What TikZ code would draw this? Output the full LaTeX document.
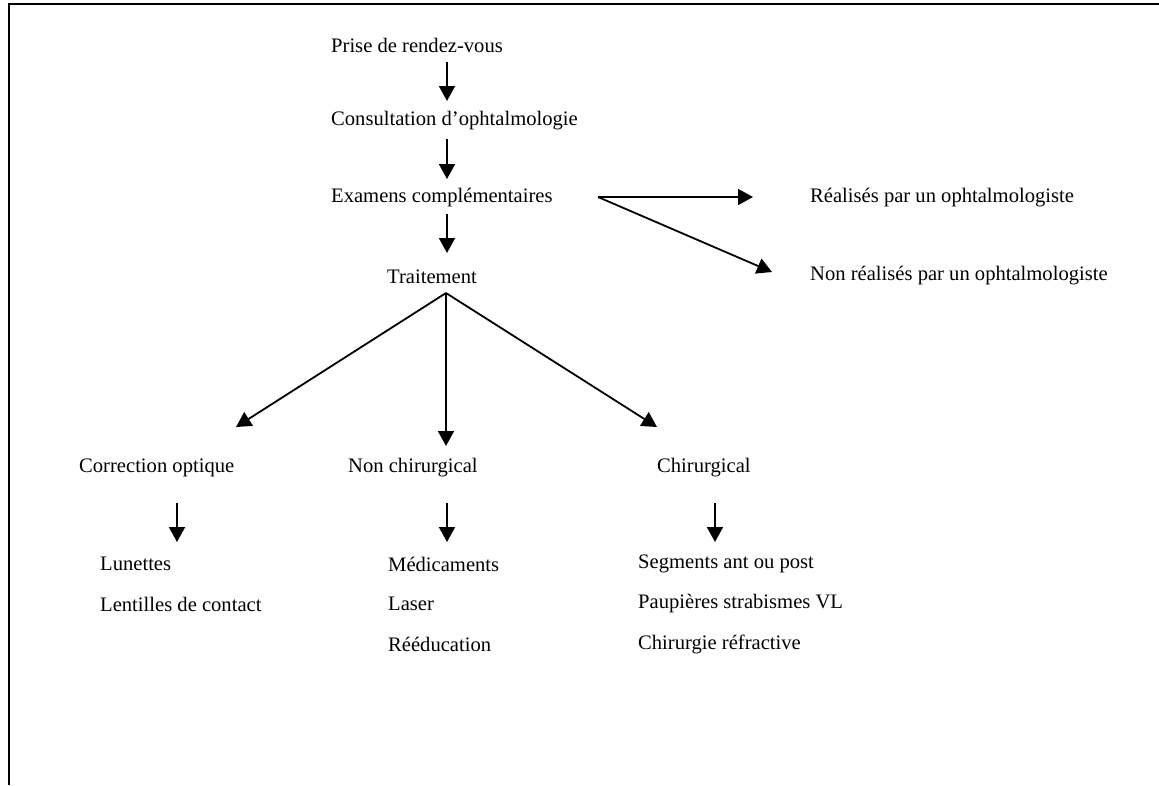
\documentclass[tikz,border=0pt]{standalone}
\usepackage{fontspec}
\setmainfont{Liberation Serif}
\usetikzlibrary{arrows.meta}
\tikzset{
  lbl/.style={anchor=west,inner sep=0pt,font=\fontsize{20.6}{24}\selectfont},
  arr/.style={line width=1.8pt,-{Triangle[length=15pt,width=16pt]}},
  frame/.style={line width=2.2pt}
}
\begin{document}
\begin{tikzpicture}[x=1pt,y=-1pt]
\useasboundingbox (0,0) rectangle (1159,785);
\draw[frame] (9,785) -- (9,4) -- (1159,4);
% nodes
\node[lbl] (prise) at (331,45) {Prise de rendez-vous};
\node[lbl] (consult) at (331,121) {Consultation d’ophtalmologie};
\node[lbl] (exam) at (331,198) {Examens complémentaires};
\node[lbl] (trait) at (387,277) {Traitement};
\node[lbl] (real) at (810,198) {Réalisés par un ophtalmologiste};
\node[lbl] (nonreal) at (810,276) {Non réalisés par un ophtalmologiste};
\node[lbl] (corr) at (79,468) {Correction optique};
\node[lbl] (nonchir) at (348,468) {Non chirurgical};
\node[lbl] (chir) at (657,468) {Chirurgical};
\node[lbl] (lun) at (100,564) {Lunettes};
\node[lbl] (lent) at (100,604) {Lentilles de contact};
\node[lbl] (med) at (388,564) {Médicaments};
\node[lbl] (laser) at (388,604) {Laser};
\node[lbl] (reed) at (388,644) {Rééducation};
\node[lbl] (seg) at (638,564) {Segments ant ou post};
\node[lbl] (paup) at (638,604) {Paupières strabismes VL};
\node[lbl] (chref) at (638,644) {Chirurgie réfractive};
% connector end points
\coordinate (a1s) at (447,62);  \coordinate (a1e) at (447,101);
\coordinate (a2s) at (447,139); \coordinate (a2e) at (447,179);
\coordinate (a3s) at (447,214); \coordinate (a3e) at (447,253);
\coordinate (ex) at (598,197);
\coordinate (realtip) at (753,197);
\coordinate (nonrealtip) at (772,272);
\coordinate (apex) at (446,293);
\coordinate (corrtip) at (236,427);
\coordinate (nctip) at (446,446);
\coordinate (chirtip) at (657,427);
\coordinate (b1s) at (177,503); \coordinate (b1e) at (177,542);
\coordinate (b2s) at (447,503); \coordinate (b2e) at (447,542);
\coordinate (b3s) at (715,503); \coordinate (b3e) at (715,542);
% connectors
\draw[arr] (a1s) -- (a1e);
\draw[arr] (a2s) -- (a2e);
\draw[arr] (a3s) -- (a3e);
\draw[arr] (ex) -- (realtip);
\draw[arr] (ex) -- (nonrealtip);
\draw[arr] (apex) -- (corrtip);
\draw[arr] (apex) -- (nctip);
\draw[arr] (apex) -- (chirtip);
\draw[arr] (b1s) -- (b1e);
\draw[arr] (b2s) -- (b2e);
\draw[arr] (b3s) -- (b3e);
\end{tikzpicture}
\end{document}
